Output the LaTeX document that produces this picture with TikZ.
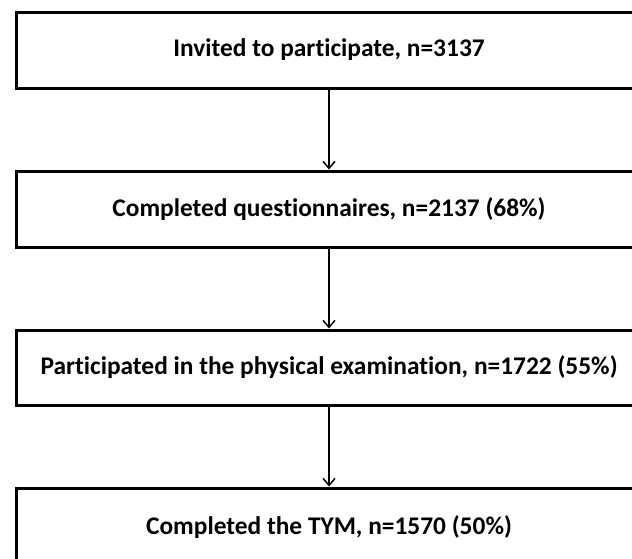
\documentclass[tikz,border=0pt]{standalone}
\usepackage{fontspec}
\setmainfont{Carlito}[Ligatures=NoCommon]
\usetikzlibrary{arrows.meta}
\begin{document}
\begin{tikzpicture}[x=1pt,y=-1pt,
  box/.style={draw=black,line width=3pt,minimum width=626pt,inner sep=0pt,font=\bfseries\fontsize{25.4}{30}\selectfont},
  conn/.style={line width=1.6pt,-{Straight Barb[length=7pt,width=12pt,line width=1.5pt]}}]
\clip (0,0) rectangle (632,558);
\node[box,minimum height=76pt] (b1) at (329,50) {Invited to participate, n=3137};
\node[box,minimum height=76pt] (b2) at (329,209) {Completed questionnaires, n=2137 (68\%)};
\node[box,minimum height=75pt] (b3) at (329,367.5) {Participated in the physical examination, n=1722 (55\%)};
\node[box,minimum height=78pt] (b4) at (329,527) {Completed the TYM, n=1570 (50\%)};
\draw[conn] (b1.south) -- (b2.north);
\draw[conn] (b2.south) -- (b3.north);
\draw[conn] (b3.south) -- (b4.north);
\end{tikzpicture}
\end{document}
